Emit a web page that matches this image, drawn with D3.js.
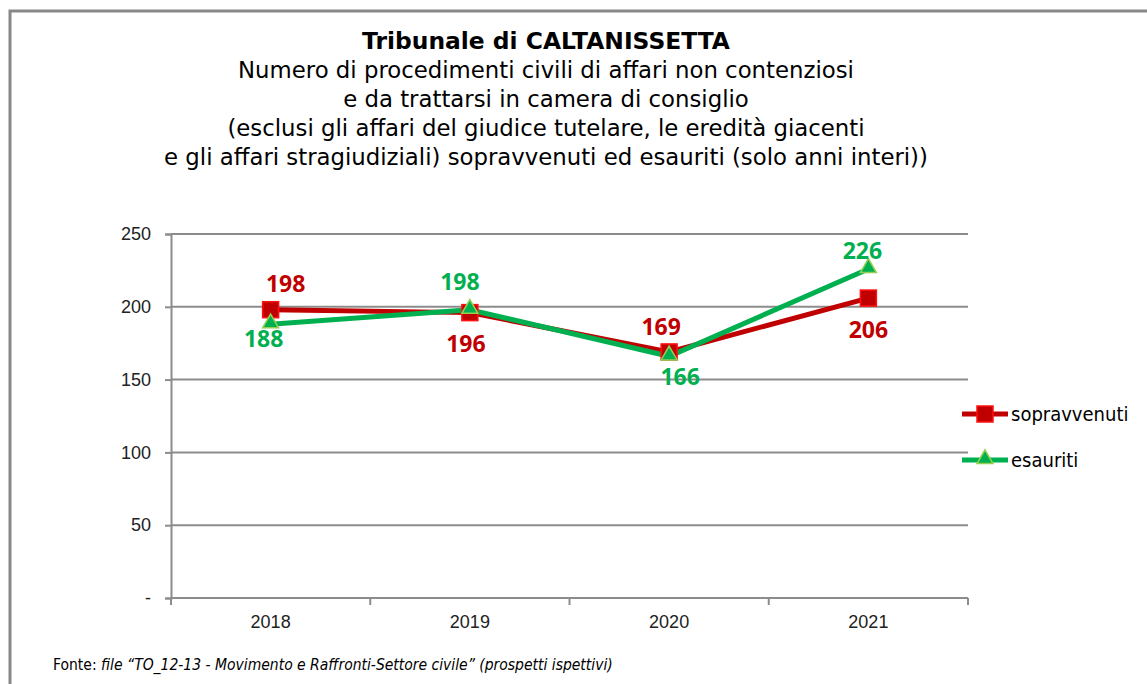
<!DOCTYPE html>
<html>
<head>
<meta charset="utf-8">
<script src="https://cdn.jsdelivr.net/npm/d3@7"></script>
<style>
  body { margin: 0; background: #fff; }
  text { font-family: "DejaVu Sans", sans-serif; }
  .axis text { font-family: "Liberation Sans", Arial, sans-serif; font-size: 18px; fill: #222; }
  .lbl { font-family: "Open Sans", "Liberation Sans", sans-serif; font-weight: bold; font-size: 23px; }
  .cond { font-family: "DejaVu Sans Condensed", "DejaVu Sans", sans-serif; }
</style>
</head>
<body>
<script>
// Data
const years = ["2018", "2019", "2020", "2021"];
const sopravvenuti = [198, 196, 169, 206];
const esauriti = [188, 198, 166, 226];
const yTicks = [0, 50, 100, 150, 200, 250];

const titleLines = [
    "Numero di procedimenti civili di affari non contenziosi",
    "e da trattarsi in camera di consiglio",
    "(esclusi gli affari del giudice tutelare, le eredità giacenti",
    "e gli affari stragiudiziali) sopravvenuti ed esauriti (solo anni interi))"
];

// label placement (offsets from the point)
const redDx = [15, -4, -8, 0];
const redDy = [-18, 39, -17, 40];
const greenDx = [-7, -10, 11, -6];
const greenDy = [23, -20, 29, -10];

const w = 1147;
const h = 684;

const svg = d3.select("body")
    .append("svg")
    .attr("width", w)
    .attr("height", h);

// Frame
svg.append("path")
    .attr("d", `M10,${h} V11 H${w}`)
    .attr("fill", "none")
    .attr("stroke", "#888")
    .attr("stroke-width", 3);

// Scales
const xScale = d3.scaleBand()
    .domain(years)
    .range([171, 968]);

const yScale = d3.scaleLinear()
    .domain([0, 250])
    .range([598, 234]);

// Gridlines
svg.append("g")
    .selectAll("line")
    .data(yTicks.filter(d => d > 0))
    .join("line")
    .attr("x1", 171)
    .attr("x2", 968)
    .attr("y1", d => yScale(d))
    .attr("y2", d => yScale(d))
    .attr("stroke", "#8c8c8c")
    .attr("stroke-width", 2);

// Left axis
const leftAxis = d3.axisLeft(yScale)
    .tickValues(yTicks)
    .tickSize(6)
    .tickPadding(14)
    .tickFormat(d => d === 0 ? "-" : d);

const gy = svg.append("g")
    .attr("class", "axis")
    .attr("transform", "translate(171, 0)")
    .call(leftAxis);
gy.selectAll("path, line").attr("stroke", "#8c8c8c").attr("stroke-width", 2);

// Bottom axis (ticks between categories)
const gx = svg.append("g")
    .attr("class", "axis")
    .attr("transform", "translate(0, 598)");
gx.append("line")
    .attr("x1", 171).attr("x2", 968)
    .attr("stroke", "#8c8c8c").attr("stroke-width", 2);
const bounds = years.map(d => xScale(d)).concat([xScale.range()[1]]);
gx.selectAll(".tk")
    .data(bounds)
    .join("line")
    .attr("class", "tk")
    .attr("x1", d => d).attr("x2", d => d)
    .attr("y1", 0).attr("y2", 7)
    .attr("stroke", "#8c8c8c").attr("stroke-width", 2);
gx.selectAll(".yl")
    .data(years)
    .join("text")
    .attr("class", "yl")
    .attr("x", d => xScale(d) + xScale.bandwidth() / 2)
    .attr("y", 30)
    .attr("text-anchor", "middle")
    .text(d => d);

const cx = d => xScale(d) + xScale.bandwidth() / 2;

// Lines
const line = d3.line()
    .x((d, i) => cx(years[i]))
    .y(d => yScale(d));

svg.append("path")
    .datum(sopravvenuti)
    .attr("d", line)
    .attr("fill", "none")
    .attr("stroke", "#C00000")
    .attr("stroke-width", 5);

svg.append("path")
    .datum(esauriti)
    .attr("d", line)
    .attr("fill", "none")
    .attr("stroke", "#00B050")
    .attr("stroke-width", 5);

// Markers
svg.append("g")
    .selectAll("rect")
    .data(sopravvenuti)
    .join("rect")
    .attr("x", (d, i) => cx(years[i]) - 8)
    .attr("y", d => yScale(d) - 8)
    .attr("width", 16)
    .attr("height", 16)
    .attr("fill", "#C00000")
    .attr("stroke", "#FF1010")
    .attr("stroke-width", 1.5);

const tri = d3.symbol().type(d3.symbolTriangle).size(110);
svg.append("g")
    .selectAll("path")
    .data(esauriti)
    .join("path")
    .attr("d", tri)
    .attr("transform", (d, i) => `translate(${cx(years[i])}, ${yScale(d) - 1})`)
    .attr("fill", "#00B050")
    .attr("stroke", "#92D050")
    .attr("stroke-width", 1.5);

// Data labels
svg.append("g")
    .selectAll("text")
    .data(sopravvenuti)
    .join("text")
    .attr("class", "lbl")
    .attr("fill", "#C00000")
    .attr("x", (d, i) => cx(years[i]) + redDx[i])
    .attr("y", (d, i) => yScale(d) + redDy[i])
    .attr("text-anchor", "middle")
    .text(d => d);

svg.append("g")
    .selectAll("text")
    .data(esauriti)
    .join("text")
    .attr("class", "lbl")
    .attr("fill", "#00B050")
    .attr("x", (d, i) => cx(years[i]) + greenDx[i])
    .attr("y", (d, i) => yScale(d) + greenDy[i])
    .attr("text-anchor", "middle")
    .text(d => d);

// Title
svg.append("text")
    .attr("x", 546)
    .attr("y", 49)
    .attr("text-anchor", "middle")
    .attr("font-weight", "bold")
    .attr("font-size", 23.4)
    .attr("fill", "#000")
    .text("Tribunale di CALTANISSETTA");

svg.append("g")
    .selectAll("text")
    .data(titleLines)
    .join("text")
    .attr("x", 546)
    .attr("y", (d, i) => 78 + i * 29)
    .attr("text-anchor", "middle")
    .attr("font-size", 22.8)
    .attr("fill", "#000")
    .text(d => d);

// Legend
const legend = [
    { name: "sopravvenuti", color: "#C00000", y: 414, shape: "square" },
    { name: "esauriti", color: "#00B050", y: 460, shape: "triangle" }
];
legend.forEach(l => {
    svg.append("line")
        .attr("x1", 962).attr("x2", 1008)
        .attr("y1", l.y).attr("y2", l.y)
        .attr("stroke", l.color).attr("stroke-width", 5);
    if (l.shape === "square") {
        svg.append("rect")
            .attr("x", 977).attr("y", l.y - 8)
            .attr("width", 16).attr("height", 16)
            .attr("fill", "#C00000").attr("stroke", "#FF1010").attr("stroke-width", 1.5);
    } else {
        svg.append("path")
            .attr("d", tri)
            .attr("transform", `translate(985, ${l.y - 1})`)
            .attr("fill", "#00B050").attr("stroke", "#92D050").attr("stroke-width", 1.5);
    }
    svg.append("text")
        .attr("class", "cond")
        .attr("x", 1011)
        .attr("y", l.y + 7)
        .attr("font-size", 20)
        .attr("fill", "#000")
        .text(l.name);
});

// Source note
const note = svg.append("text")
    .attr("class", "cond")
    .attr("x", 53)
    .attr("y", 670)
    .attr("font-size", 15.5)
    .attr("fill", "#000");
note.append("tspan").text("Fonte: ");
note.append("tspan")
    .attr("font-style", "italic")
    .text("file \u201CTO_12-13 - Movimento e Raffronti-Settore civile\u201D (prospetti ispettivi)");
</script>
</body>
</html>
